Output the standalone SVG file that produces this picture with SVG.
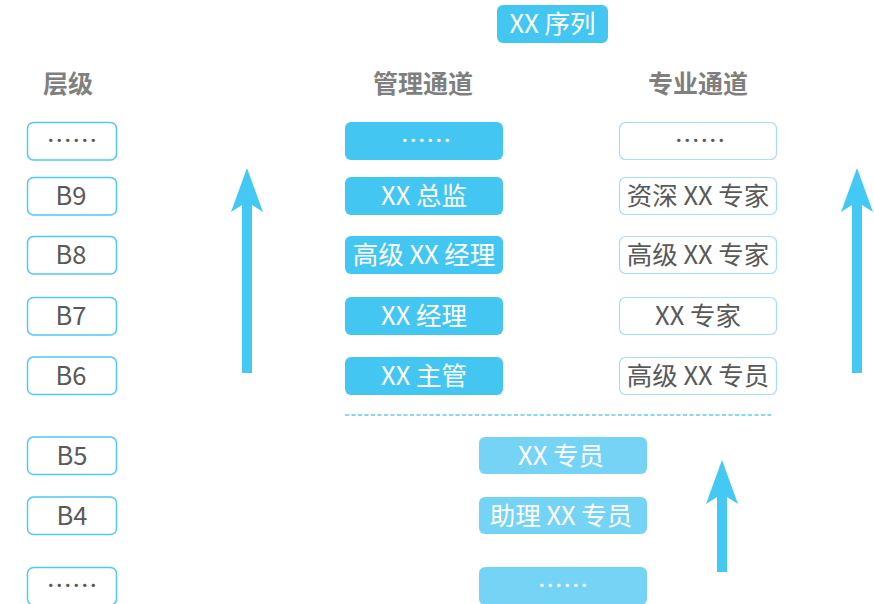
<svg xmlns="http://www.w3.org/2000/svg" width="874" height="604" viewBox="0 0 874 604">
<style>
text{font-family:"Noto Sans CJK SC","Noto Sans",sans-serif;text-anchor:middle;font-size:25.5px}
.hdr{font-weight:bold;fill:#7f7f7f;font-size:25px}
.lvl rect{fill:#fff;stroke:#4fc9f2;stroke-width:1.5}
.lvl text{fill:#595959}
.mg rect{fill:#44c6f2}
.mg text{fill:#fff}
.sp rect{fill:#fff;stroke:#a8def6;stroke-width:1.2}
.sp text{fill:#595959}
.lo rect{fill:#75d3f6}
.lo text{fill:#fff}
.arr{fill:#44c8f4}
</style>
<g id="title" class="mg"><rect x="497" y="5" width="111" height="38" rx="6"/><text x="552.5" y="32.5">XX 序列</text></g>
<g id="headers">
<text class="hdr" x="68" y="93">层级</text>
<text class="hdr" x="423" y="93">管理通道</text>
<text class="hdr" x="698" y="93">专业通道</text>
</g>
<g id="lv-top" class="lvl"><rect x="27.5" y="122.5" width="89" height="37.5" rx="6"/><text x="72" y="149.5">……</text></g>
<g id="lv-b9" class="lvl"><rect x="27.5" y="177.5" width="89" height="37.5" rx="6"/><text x="71" y="204.5">B9</text></g>
<g id="lv-b8" class="lvl"><rect x="27.5" y="236.5" width="89" height="37.5" rx="6"/><text x="71" y="263.5">B8</text></g>
<g id="lv-b7" class="lvl"><rect x="27.5" y="297.5" width="89" height="37.5" rx="6"/><text x="71" y="324.5">B7</text></g>
<g id="lv-b6" class="lvl"><rect x="27.5" y="357" width="89" height="37.5" rx="6"/><text x="71" y="384.5">B6</text></g>
<g id="lv-b5" class="lvl"><rect x="27.5" y="437" width="89" height="37.5" rx="6"/><text x="72" y="464.5">B5</text></g>
<g id="lv-b4" class="lvl"><rect x="27.5" y="497" width="89" height="37.5" rx="6"/><text x="72" y="524.5">B4</text></g>
<g id="lv-bot" class="lvl"><rect x="27.5" y="567.5" width="89" height="37.5" rx="6"/><text x="72" y="594.5">……</text></g>

<g id="mg-top" class="mg"><rect x="345" y="122" width="158" height="38" rx="6"/><text x="426" y="149.5">……</text></g>
<g id="mg-dir" class="mg"><rect x="345" y="177" width="158" height="38" rx="6"/><text x="424" y="204.5">XX 总监</text></g>
<g id="mg-smgr" class="mg"><rect x="345" y="236" width="158" height="38" rx="6"/><text x="424" y="263.5">高级 XX 经理</text></g>
<g id="mg-mgr" class="mg"><rect x="345" y="297" width="158" height="38" rx="6"/><text x="424" y="324.5">XX 经理</text></g>
<g id="mg-sup" class="mg"><rect x="345" y="357" width="158" height="38" rx="6"/><text x="424" y="384.5">XX 主管</text></g>

<g id="sp-top" class="sp"><rect x="619.5" y="122.5" width="157" height="37" rx="6"/><text x="700" y="149.5">……</text></g>
<g id="sp-senior" class="sp"><rect x="619.5" y="177.5" width="157" height="37" rx="6"/><text x="698" y="204.5">资深 XX 专家</text></g>
<g id="sp-hexp" class="sp"><rect x="619.5" y="236.5" width="157" height="37" rx="6"/><text x="698" y="263.5">高级 XX 专家</text></g>
<g id="sp-exp" class="sp"><rect x="619.5" y="297.5" width="157" height="37" rx="6"/><text x="698" y="324.5">XX 专家</text></g>
<g id="sp-hspec" class="sp"><rect x="619.5" y="357.5" width="157" height="37" rx="6"/><text x="698" y="384.5">高级 XX 专员</text></g>

<g id="lo-spec" class="lo"><rect x="479" y="437" width="168" height="37" rx="6"/><text x="561" y="464.5">XX 专员</text></g>
<g id="lo-asst" class="lo"><rect x="479" y="497" width="168" height="37" rx="6"/><text x="561" y="524.5">助理 XX 专员</text></g>
<g id="lo-bot" class="lo"><rect x="479" y="567" width="168" height="38" rx="6"/><text x="563" y="594.5">……</text></g>

<g id="connectors">
<line x1="345" y1="415" x2="771" y2="415" stroke="#5fcdf2" stroke-width="1.5" stroke-dasharray="4 2.5"/>
<path class="arr" d="M247,168 L263,212 L252,205 L252,373 L242,373 L242,205 L231,212 Z"/>
<path class="arr" d="M857,168 L873,212 L862,205 L862,373 L852,373 L852,205 L841,212 Z"/>
<path class="arr" d="M722,460 L738,504 L727,497 L727,572 L717,572 L717,497 L706,504 Z"/>
</g>
</svg>
